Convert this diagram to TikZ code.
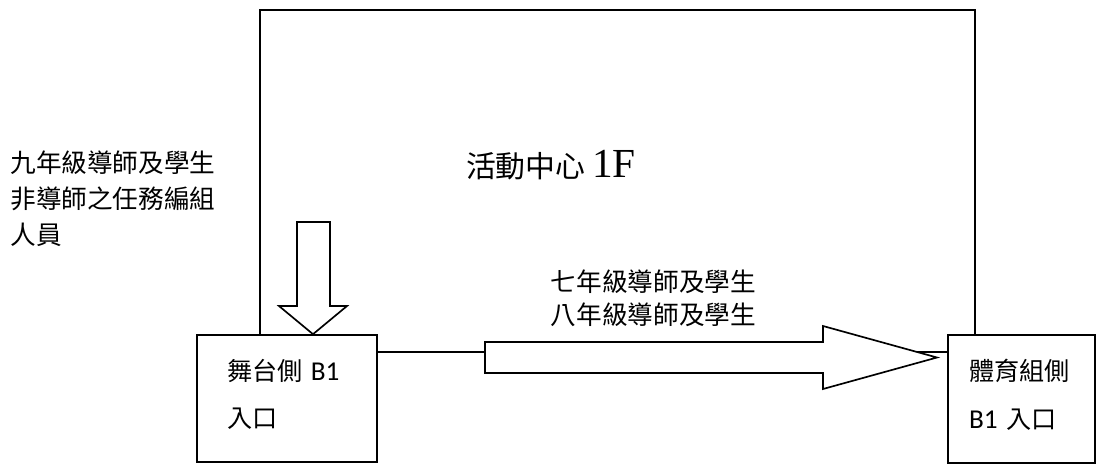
\documentclass[tikz,border=0pt]{standalone}
\usepackage{fontspec}
\setmainfont{Liberation Serif}
\newfontfamily\cjk{Noto Sans CJK TC}
\newfontfamily\calib{Carlito}
\usepackage{tikz}
\usetikzlibrary{positioning}
\tikzset{>=stealth}
\tikzset{
  wall/.style={draw, line width=0.95pt},
  entrance/.style={draw, line width=0.95pt, rectangle, align=left, inner ysep=0pt,
    font=\cjk\fontsize{14.3}{27}\selectfont},
  blockarrow/.style={draw, fill=white, line width=0.95pt, line join=miter},
  note/.style={align=left, inner sep=0pt}
}

\begin{document}
\begin{tikzpicture}[x=0.02cm, y=-0.02cm]
        \useasboundingbox (0,0) rectangle (1100,464);
        % Entrances
        \node[entrance, text width=2.4cm, inner xsep=0.6cm, minimum height=2.54cm] (lbox) at (287,398.5)
          {舞台側 {\calib\fontsize{15.5}{27}\selectfont B1}\\入口\\[-21pt]\mbox{}};
        \node[entrance, text width=2.1cm, inner xsep=0.42cm, minimum height=2.56cm] (rbox) at (1021.5,399)
          {體育組側\\{\calib\fontsize{15.5}{27}\selectfont B1} 入口\\[-21pt]\mbox{}};

        % Hall
        \draw [wall] (260,0 |- lbox.north) -- (260,10) -- (975,10) -- (975,0 |- rbox.north);
        \draw [wall] (lbox.east |- 0,352) -- (rbox.west |- 0,352);
        \node[note, font=\cjk\fontsize{17}{20}\selectfont] (hall) at (551,165)
          {活動中心 {\rmfamily\fontsize{23.5}{26}\selectfont 1F}};

        % Routes
        \draw [blockarrow] (297,222) -- (330,222) -- (330,306) -- (347,306)
          -- (313,0 |- lbox.north) -- (279,306) -- (297,306) -- cycle;
        \draw [blockarrow] (485,342) -- (823,342) -- (823,326) -- (937,357.5)
          -- (823,389) -- (823,373) -- (485,373) -- cycle;
        \node[note, anchor=west, font=\cjk\fontsize{14.6}{20.5}\selectfont] (ninth) at (10,199)
          {九年級導師及學生\\非導師之任務編組\\人員};
        \node[note, font=\cjk\fontsize{14.6}{18.7}\selectfont] (seventh) at (653.5,298.5)
          {七年級導師及學生\\八年級導師及學生};
      \end{tikzpicture}
\end{document}
